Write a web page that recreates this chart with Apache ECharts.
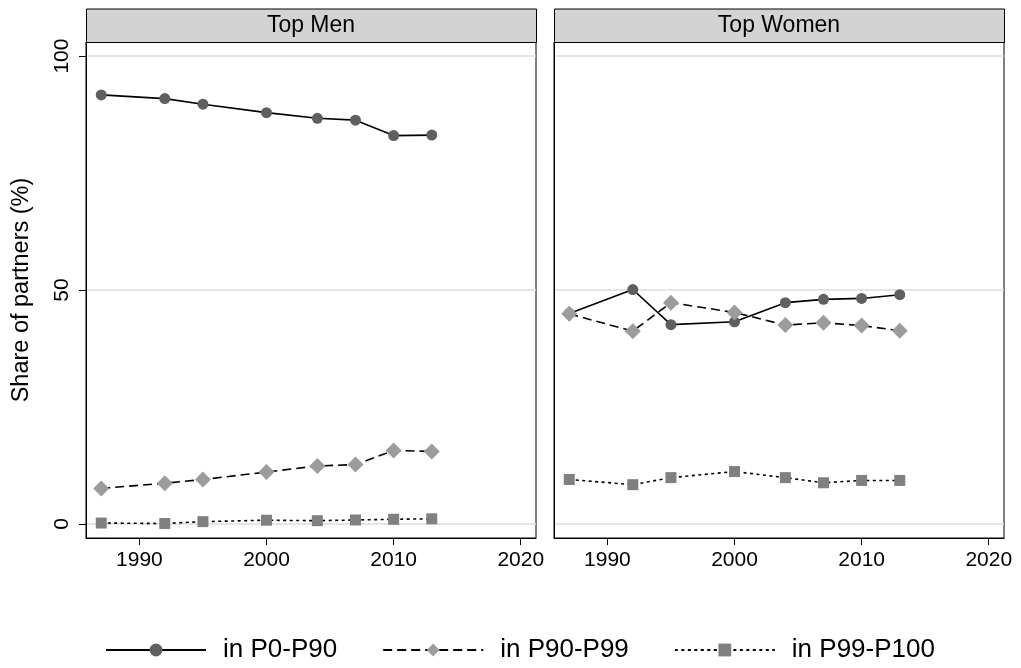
<!DOCTYPE html>
<html>
<head>
<meta charset="utf-8">
<script src="https://cdn.jsdelivr.net/npm/echarts@6/dist/echarts.min.js"></script>
<style>
html,body{margin:0;padding:0;background:#fff;}
#chart{width:1021px;height:668px;}
</style>
</head>
<body>
<div id="chart"></div>
<script>
// ---- data ----
const years = [1987, 1992, 1995, 2000, 2004, 2007, 2010, 2013];
const panelTitles = ['Top Men', 'Top Women'];
const seriesNames = ['in P0-P90', 'in P90-P99', 'in P99-P100'];
const menP0P90   = [91.7, 90.9, 89.7, 87.9, 86.7, 86.3, 83.0, 83.1];
const menP90P99  = [7.6, 8.7, 9.5, 11.1, 12.4, 12.7, 15.7, 15.5];
const menP99P100 = [0.2, 0.1, 0.5, 0.8, 0.7, 0.85, 1.0, 1.1];
const womenP0P90   = [45.0, 50.1, 42.6, 43.2, 47.3, 48.0, 48.2, 49.0];
const womenP90P99  = [44.9, 41.2, 47.3, 45.2, 42.5, 43.0, 42.4, 41.3];
const womenP99P100 = [9.5, 8.4, 9.9, 11.2, 9.9, 8.8, 9.3, 9.3];
const xTicks = [1990, 2000, 2010, 2020];
const yTicks = [0, 50, 100];
const yTitle = 'Share of partners (%)';

// ---- styles ----
const FONT = 'Liberation Sans, Arial, Helvetica, sans-serif';
const styles = [
  {symbol: 'circle', size: 11, color: '#5f5f5f', dash: 'solid'},
  {symbol: 'diamond', size: 16, color: '#9c9c9c', dash: [9, 5]},
  {symbol: 'rect', size: 11, color: '#808080', dash: [3, 3.5]}
];
const panels = [
  {left: 86, width: 450},
  {left: 554, width: 450}
];
const gridTop = 42, gridHeight = 496;

function pairs(vals) { return years.map((y, i) => [y, vals[i]]); }
const dataByPanel = [
  [menP0P90, menP90P99, menP99P100],
  [womenP0P90, womenP90P99, womenP99P100]
];

const grids = panels.map(p => ({
  left: p.left, top: gridTop, width: p.width, height: gridHeight,
  show: true, borderColor: '#000', borderWidth: 1,
  containLabel: false, outerBoundsMode: 'none'
}));

const xAxes = panels.map((p, i) => ({
  type: 'value', gridIndex: i, min: 1985.8, max: 2021.2,
  axisLine: {show: true, onZero: false, lineStyle: {color: '#000', width: 1}},
  axisTick: {show: true, length: 7, customValues: xTicks, lineStyle: {color: '#000', width: 1}},
  axisLabel: {customValues: xTicks, formatter: v => String(v), color: '#000', fontSize: 21, fontFamily: FONT, margin: 12},
  splitLine: {show: false}
}));

const yAxes = panels.map((p, i) => ({
  type: 'value', gridIndex: i, min: -3, max: 103,
  name: i === 0 ? yTitle : '',
  nameLocation: 'middle', nameGap: 52,
  nameTextStyle: {color: '#000', fontSize: 23.5, fontFamily: FONT},
  axisLine: {show: true, lineStyle: {color: '#000', width: 1}},
  axisTick: {show: i === 0, length: 7, customValues: yTicks, lineStyle: {color: '#000', width: 1}},
  axisLabel: {show: i === 0, customValues: yTicks, formatter: v => String(v), rotate: 90, color: '#000', fontSize: 21, fontFamily: FONT, margin: 13},
  splitLine: {show: true, lineStyle: {color: '#dcdcdc', width: 1.5}}
}));

const series = [];
dataByPanel.forEach((sets, pi) => {
  sets.forEach((vals, si) => {
    const st = styles[si];
    series.push({
      name: seriesNames[si], type: 'line', xAxisIndex: pi, yAxisIndex: pi,
      data: pairs(vals), symbol: st.symbol, symbolSize: st.size, showAllSymbol: true,
      itemStyle: {color: st.color, borderWidth: 0},
      lineStyle: {color: '#000', width: 1.6, type: st.dash},
      emphasis: {disabled: true}, animation: false
    });
  });
});

const graphics = [];
panels.forEach((p, i) => {
  graphics.push({
    type: 'rect', left: p.left, top: 8.5, z: 10,
    shape: {width: p.width, height: gridTop - 8.5},
    style: {fill: '#d3d3d3', stroke: '#000', lineWidth: 1}
  });
  graphics.push({
    type: 'text', z: 11, x: p.left + p.width / 2, y: (8.5 + gridTop) / 2,
    style: {text: panelTitles[i], fill: '#000', font: '23px ' + FONT, align: 'center', verticalAlign: 'middle'}
  });
});

const chart = echarts.init(document.getElementById('chart'), null, {renderer: 'canvas'});
chart.setOption({
  backgroundColor: '#fff',
  animation: false,
  grid: grids,
  xAxis: xAxes,
  yAxis: yAxes,
  legend: {
    data: seriesNames,
    left: 105, top: 637, padding: 0,
    itemWidth: 100, itemHeight: 16, itemGap: 45,
    textStyle: {color: '#000', fontSize: 26, fontFamily: FONT, padding: [0, 0, 0, 12]},
    selectedMode: false
  },
  graphic: graphics,
  series: series
});
</script>
</body>
</html>
